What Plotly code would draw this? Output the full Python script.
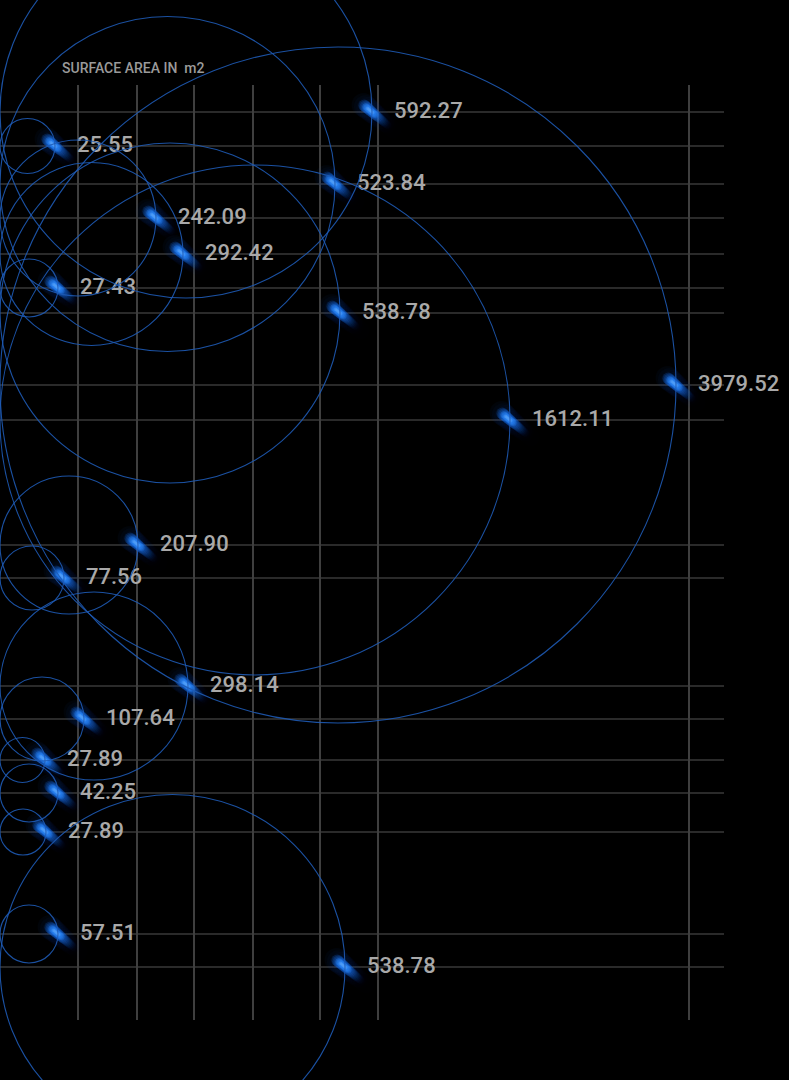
"""
plot.py
------------------------------------
Surface area rings, recreated in Plotly
"""

import numpy as np
import plotly.graph_objects as go

# surface area of each item (m2), listed top to bottom
areas = [592.27, 25.55, 523.84, 242.09, 292.42, 27.43, 538.78, 3979.52, 1612.11,
         207.90, 77.56, 298.14, 107.64, 27.89, 42.25, 27.89, 57.51, 538.78]

# horizontal position of each item (chart units)
pos_x = [372, 55, 335, 156, 183, 58, 340, 676, 510,
         138, 64, 188, 84, 45, 58, 46, 58, 345]

# row of each item (chart units, counted from the top)
pos_y = [112, 146, 184, 218, 254, 288, 313, 385, 420,
         545, 578, 686, 719, 760, 793, 832, 934, 967]

# vertical guide columns (chart units)
columns = [78, 137, 194, 253, 320, 378, 689]

W, H = 789, 1080
GRID_TOP, GRID_BOTTOM, GRID_RIGHT = 85, 1020, 724
ANGLE = np.deg2rad(40)
DX, DY = np.cos(ANGLE), np.sin(ANGLE)

fig = go.Figure()

# guide lines
vx, vy = [], []
for c in columns:
    vx += [c, c, None]
    vy += [GRID_TOP, GRID_BOTTOM, None]
hx, hy = [], []
for y in pos_y:
    hx += [0, GRID_RIGHT, None]
    hy += [y, y, None]

fig.add_trace(go.Scatter(x=hx, y=hy, mode="lines",
                         line=dict(color="#2a2a2a", width=2),
                         hoverinfo="skip"))
fig.add_trace(go.Scatter(x=vx, y=vy, mode="lines",
                         line=dict(color="#3f3f3f", width=2),
                         hoverinfo="skip"))

# rings: each spans from the left edge to the item
for px, py in zip(pos_x, pos_y):
    r = px / 2
    fig.add_shape(type="circle", xref="x", yref="y",
                  x0=px - 2 * r, x1=px, y0=py - r, y1=py + r,
                  line=dict(color="rgba(30,90,180,0.9)", width=1.1), layer="above")


# glowing streak markers
def streak_layer(d_from, d_to, n, size_fn, color_fn):
    xs, ys, sizes, colors = [], [], [], []
    for px, py in zip(pos_x, pos_y):
        for t in np.linspace(0, 1, n):
            d = d_from + (d_to - d_from) * t
            xs.append(px + d * DX)
            ys.append(py + d * DY)
            sizes.append(size_fn(t))
            colors.append(color_fn(t))
    return go.Scatter(x=xs, y=ys, mode="markers",
                      marker=dict(size=sizes, color=colors, line=dict(width=0)),
                      hoverinfo="skip")


fig.add_trace(streak_layer(-11, 30, 16, lambda t: 24 - 6 * t,
                           lambda t: f"rgba(15,70,170,{0.08 * (1 - t) ** 1.2:.3f})"))
fig.add_trace(streak_layer(-10, 26, 26, lambda t: 12 - 4 * t,
                           lambda t: f"rgba(25,110,230,{0.3 * min(1, (1 - t) * 1.6) ** 2:.3f})"))
fig.add_trace(streak_layer(-8, 4, 9, lambda t: 7,
                           lambda t: "rgba(45,140,255,0.4)"))
fig.add_trace(streak_layer(-6, 1, 6, lambda t: 3.5,
                           lambda t: "rgba(130,195,255,0.3)"))

# value labels
fig.add_trace(go.Scatter(
    x=[p + 22 for p in pos_x], y=pos_y,
    mode="text",
    text=[f"{a:.2f}" for a in areas],
    textposition="middle right",
    textfont=dict(family="Roboto", size=22, color="#a9a9a9", weight=500),
    hoverinfo="skip"))

fig.add_annotation(x=60, y=68, xref="x", yref="y",
                   text="SURFACE AREA IN\u00a0\u00a0m2", showarrow=False,
                   xanchor="left", yanchor="middle",
                   font=dict(family="Roboto", size=14, color="#9a9a9a", weight=500))

fig.update_layout(
    width=W, height=H,
    margin=dict(l=0, r=0, t=0, b=0),
    paper_bgcolor="black", plot_bgcolor="black",
    showlegend=False,
    xaxis=dict(range=[0, W], visible=False, fixedrange=True),
    yaxis=dict(range=[H, 0], visible=False, fixedrange=True),
)

fig.write_html(
    "out.html",
    config={"displayModeBar": False},
    post_script="document.body.style.margin='0';"
                "document.body.style.background='black';"
                "document.body.style.overflow='hidden';",
)
